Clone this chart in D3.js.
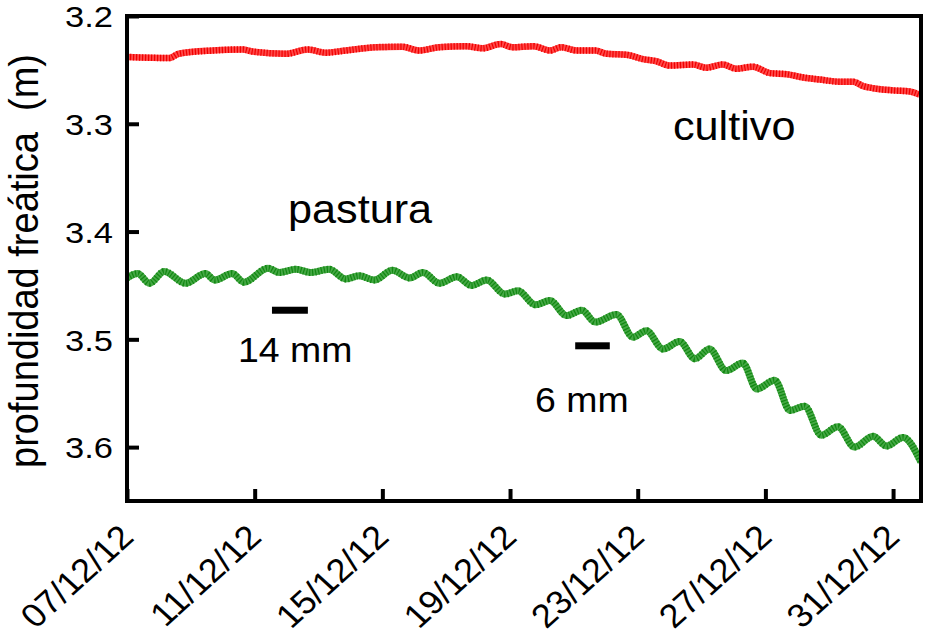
<!DOCTYPE html>
<html>
<head>
<meta charset="utf-8">
<script src="https://cdn.jsdelivr.net/npm/d3@7"></script>
<style>
  body { margin: 0; background: #fff; }
  svg { display: block; }
  text { font-family: "Liberation Sans", Arial, sans-serif; fill: #000; }
</style>
</head>
<body>
<svg id="chart" width="926" height="633"></svg>
<script>
// Water-table depth under pasture (pastura), readings at daily peaks and troughs
const pasturaTimes = [
  "2012-12-07 00:00","2012-12-07 08:00","2012-12-07 17:00","2012-12-08 04:00","2012-12-08 20:00",
  "2012-12-09 11:00","2012-12-09 18:00","2012-12-10 07:00","2012-12-10 16:00","2012-12-11 10:00",
  "2012-12-11 18:30","2012-12-12 07:00","2012-12-12 18:00","2012-12-13 08:00","2012-12-13 20:30",
  "2012-12-14 06:30","2012-12-14 18:00","2012-12-15 07:30","2012-12-15 20:30","2012-12-16 06:30",
  "2012-12-16 19:00","2012-12-17 08:00","2012-12-17 19:00","2012-12-18 06:30","2012-12-18 20:00",
  "2012-12-19 06:00","2012-12-19 19:00","2012-12-20 06:00","2012-12-20 18:30","2012-12-21 06:00",
  "2012-12-21 16:00","2012-12-22 08:00","2012-12-22 20:30","2012-12-23 06:30","2012-12-23 19:00",
  "2012-12-24 07:30","2012-12-24 19:00","2012-12-25 06:00","2012-12-25 18:30","2012-12-26 07:00",
  "2012-12-26 17:30","2012-12-27 07:00","2012-12-27 18:30","2012-12-28 05:30","2012-12-28 18:00",
  "2012-12-29 06:30","2012-12-29 19:00","2012-12-30 09:00","2012-12-30 19:00","2012-12-31 07:30",
  "2012-12-31 21:00"
];
const pasturaDepth = [
  3.443,3.439,3.448,3.437,3.448,3.439,3.445,3.439,3.447,3.434,
  3.438,3.435,3.438,3.435,3.444,3.441,3.445,3.436,3.443,3.438,
  3.448,3.442,3.450,3.445,3.458,3.455,3.468,3.464,3.478,3.473,
  3.484,3.477,3.498,3.492,3.509,3.502,3.518,3.509,3.529,3.522,
  3.546,3.538,3.566,3.562,3.589,3.581,3.600,3.590,3.599,3.591,
  3.614
];

// Water-table depth under crop (cultivo)
const cultivoTimes = [
  "2012-12-07 00:00","2012-12-08 08:00","2012-12-08 15:00","2012-12-09 16:30","2012-12-10 15:00",
  "2012-12-10 22:30","2012-12-11 23:30","2012-12-12 16:00","2012-12-13 05:30","2012-12-13 20:30",
  "2012-12-14 19:00","2012-12-15 15:00","2012-12-16 03:30","2012-12-16 18:30","2012-12-17 15:00",
  "2012-12-18 03:30","2012-12-18 17:00","2012-12-19 02:00","2012-12-19 17:30","2012-12-20 06:00",
  "2012-12-20 14:30","2012-12-21 02:00","2012-12-21 16:00","2012-12-22 00:30","2012-12-22 15:30",
  "2012-12-23 04:00","2012-12-23 14:00","2012-12-24 00:00","2012-12-24 17:30","2012-12-25 03:30",
  "2012-12-25 16:00","2012-12-26 02:00","2012-12-26 14:30","2012-12-27 03:30","2012-12-27 16:00",
  "2012-12-28 04:30","2012-12-28 17:00","2012-12-29 08:00","2012-12-29 18:00","2012-12-30 01:30",
  "2012-12-30 09:00","2012-12-31 00:00","2012-12-31 12:30","2012-12-31 20:00"
];
const cultivoDepth = [
  3.238,3.239,3.235,3.232,3.231,3.233,3.235,3.231,3.234,3.232,
  3.229,3.2285,3.232,3.229,3.228,3.230,3.226,3.229,3.228,3.232,
  3.229,3.232,3.232,3.235,3.236,3.240,3.242,3.246,3.245,3.248,
  3.245,3.249,3.247,3.253,3.254,3.257,3.259,3.261,3.261,3.265,
  3.267,3.269,3.270,3.273
];

// Rain events, drawn as bars spanning the event
const rainStart  = ["2012-12-11 13:00","2012-12-21 01:00"];
const rainEnd    = ["2012-12-12 16:00","2012-12-22 03:00"];
const rainLevel  = [3.473, 3.506];
const rainLabels = ["14 mm", "6 mm"];

const xTickDates  = ["2012-12-07","2012-12-11","2012-12-15","2012-12-19","2012-12-23","2012-12-27","2012-12-31"];
const yTickValues = [3.2, 3.3, 3.4, 3.5, 3.6];
const yDomain     = [3.2, 3.65];

const seriesNames = ["pastura", "cultivo"];

// ---------------------------------------------------------------------------
const parseT = d3.timeParse("%Y-%m-%d %H:%M");
const parseD = d3.timeParse("%Y-%m-%d");

const plot = { left: 127, right: 921, top: 16, bottom: 501 };
const svg = d3.select("#chart");

const pastura = pasturaTimes.map((t, i) => ({ t: parseT(t), v: pasturaDepth[i] }));
const cultivo = cultivoTimes.map((t, i) => ({ t: parseT(t), v: cultivoDepth[i] }));

const x = d3.scaleTime()
  .domain(d3.extent(pastura.concat(cultivo), d => d.t))
  .range([plot.left, plot.right]);
const y = d3.scaleLinear().domain(yDomain).range([plot.top, plot.bottom]);

svg.append("defs").append("clipPath").attr("id", "plotClip")
  .append("rect")
  .attr("x", plot.left).attr("y", plot.top)
  .attr("width", plot.right - plot.left).attr("height", plot.bottom - plot.top);

const lines = svg.append("g").attr("clip-path", "url(#plotClip)");

// each series: a solid band plus a striped overlay for the hatched look
function drawSeries(data, base, stripe, width, curve) {
  const gen = d3.line().x(d => x(d.t)).y(d => y(d.v)).curve(curve);
  lines.append("path").datum(data)
    .attr("d", gen).attr("fill", "none")
    .attr("stroke", base).attr("stroke-width", width)
    .attr("stroke-linejoin", "round").attr("stroke-linecap", "butt");
  lines.append("path").datum(data)
    .attr("d", gen).attr("fill", "none")
    .attr("stroke", stripe).attr("stroke-width", width)
    .attr("stroke-dasharray", "1.2 1.8");
}
drawSeries(cultivo, "#ff4a4a", "#f00000", 6.5, d3.curveMonotoneX);
drawSeries(pastura, "#45a845", "#138813", 7, d3.curveMonotoneX);

// rain bars with their amounts
const rain = rainStart.map((s, i) => ({
  s: parseT(s), e: parseT(rainEnd[i]), v: rainLevel[i], label: rainLabels[i]
}));
svg.append("g").selectAll("rect").data(rain).join("rect")
  .attr("x", d => x(d.s)).attr("width", d => x(d.e) - x(d.s))
  .attr("y", d => y(d.v) - 3.5).attr("height", 7)
  .attr("fill", "#000");

const rainLabelPos = [[238, 362], [535, 412]];
svg.append("g").selectAll("text").data(rain).join("text")
  .attr("transform", (d, i) => `translate(${rainLabelPos[i][0]},${rainLabelPos[i][1]}) scale(1.07,1)`)
  .style("font-size", "35px")
  .text(d => d.label);

// series names
const seriesLabelPos = [[288, 223], [673, 140]];
svg.append("g").selectAll("text").data(seriesNames).join("text")
  .attr("transform", (d, i) => `translate(${seriesLabelPos[i][0]},${seriesLabelPos[i][1]}) scale(1.08,1)`)
  .style("font-size", "40px")
  .text(d => d);

// axes
const yAxis = svg.append("g")
  .attr("transform", `translate(${plot.left},0)`)
  .call(d3.axisLeft(y).tickValues(yTickValues).tickSizeInner(-12).tickSizeOuter(0)
    .tickFormat(d3.format(".1f")));
yAxis.select(".domain").remove();
yAxis.selectAll(".tick line").attr("stroke", "#000").attr("stroke-width", 4);
yAxis.selectAll(".tick text")
  .attr("x", 0).attr("dy", "0.36em")
  .attr("transform", "translate(-14,0) scale(1.15,1)")
  .style("font-size", "30px")
  .attr("text-anchor", "end");

const xAxis = svg.append("g")
  .attr("transform", `translate(0,${plot.bottom})`)
  .call(d3.axisBottom(x).tickValues(xTickDates.map(parseD)).tickSizeInner(-12).tickSizeOuter(0)
    .tickFormat(d3.timeFormat("%d/%m/%y")));
xAxis.select(".domain").remove();
xAxis.selectAll(".tick line").attr("stroke", "#000").attr("stroke-width", 4);
xAxis.selectAll(".tick text")
  .attr("x", 0).attr("y", 0).attr("dy", 0)
  .attr("transform", "translate(8,38) scale(1.1,1) rotate(-45)")
  .style("font-size", "33px")
  .attr("text-anchor", "end");
svg.selectAll("g").attr("font-family", null).attr("font-size", null);

// frame
svg.append("rect")
  .attr("x", plot.left).attr("y", plot.top)
  .attr("width", plot.right - plot.left).attr("height", plot.bottom - plot.top)
  .attr("fill", "none").attr("stroke", "#000").attr("stroke-width", 4);

// y-axis title
svg.append("text")
  .attr("transform", "translate(38,261) scale(1.05,1) rotate(-90)")
  .attr("text-anchor", "middle")
  .style("font-size", "38px")
  .style("white-space", "pre")
  .text("profundidad freática  (m)");
</script>
</body>
</html>
